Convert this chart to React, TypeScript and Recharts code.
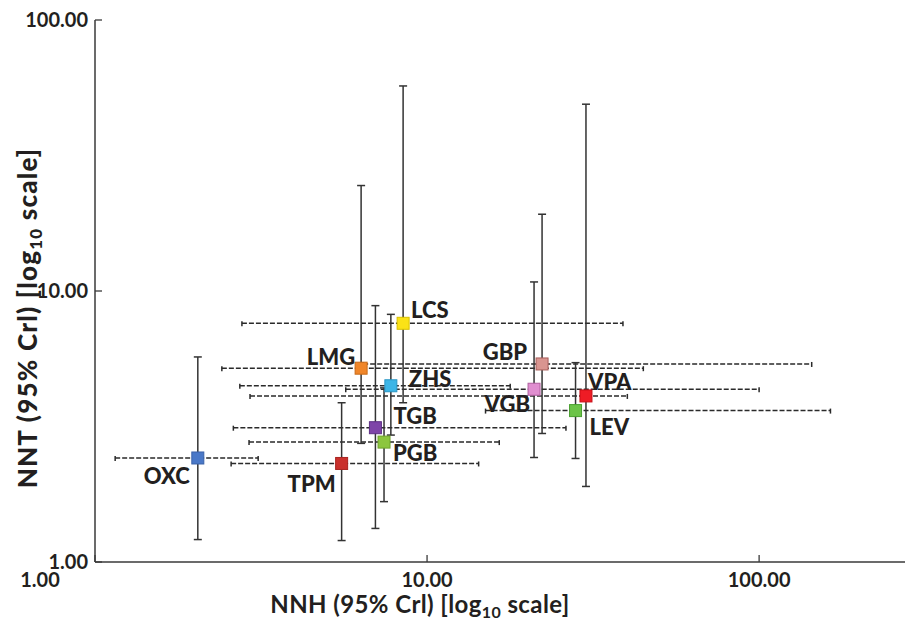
import React from "react";
import { ScatterChart, Scatter, XAxis, YAxis, ErrorBar, Label } from "recharts";

// Values (log10 axes)
const drugs = ["OXC", "TPM", "TGB", "PGB", "ZHS", "LCS", "LMG", "GBP", "VGB", "VPA", "LEV"];
const nnh = [2.04, 5.53, 6.99, 7.42, 7.78, 8.47, 6.33, 22.2, 21.0, 30.1, 28.0];
const nnhLow = [1.15, 2.57, 2.61, 2.91, 2.73, 2.77, 2.41, 6.42, 5.69, 2.93, 15.0];
const nnhHigh = [3.1, 14.3, 26.2, 16.5, 17.8, 38.9, 44.8, 144, 100, 40.1, 164];
const nnt = [2.42, 2.31, 3.13, 2.77, 4.47, 7.6, 5.19, 5.38, 4.34, 4.1, 3.62];
const nntLow = [1.21, 1.2, 1.33, 1.67, 2.94, 3.87, 2.74, 2.98, 2.43, 1.9, 2.41];
const nntHigh = [5.71, 3.87, 8.83, 4.39, 8.2, 57.1, 24.5, 19.2, 10.8, 48.9, 5.44];
const axisTicks = [1, 10, 100];

// marker fill / edge per drug
const COLORS: Record<string, [string, string]> = {
  OXC: ["#4a78c8", "#3a62a8"],
  TPM: ["#c9302c", "#a82420"],
  TGB: ["#7e44a8", "#5e2f85"],
  PGB: ["#8cc63e", "#6fa22c"],
  ZHS: ["#3db5e6", "#2a95c4"],
  LCS: ["#fbe216", "#d8c000"],
  LMG: ["#f0862a", "#c96a18"],
  GBP: ["#d99590", "#a85e5a"],
  VGB: ["#e08ed0", "#b05fa0"],
  VPA: ["#ee1c25", "#c81018"],
  LEV: ["#6cc448", "#4aa030"],
};

// where each drug code sits relative to its marker
const LABEL_PLACE: Record<string, [number, number, "start" | "end"]> = {
  OXC: [-8, 26, "end"],
  TPM: [-6, 29, "end"],
  TGB: [18, -4, "start"],
  PGB: [9, 19, "start"],
  ZHS: [18, 1, "start"],
  LCS: [8, -5, "start"],
  LMG: [-6, -3, "end"],
  GBP: [-15, -4, "end"],
  VGB: [-4, 23, "end"],
  VPA: [2, -6, "start"],
  LEV: [14, 24, "start"],
};

const FONT = "Lato, 'Open Sans', sans-serif";
const INK = "#231f20";
const AXIS = "#3a3a3a";

const rows = drugs.map((name, i) => ({
  name,
  nnh: nnh[i],
  nnt: nnt[i],
  errX: [nnh[i] - nnhLow[i], nnhHigh[i] - nnh[i]],
  errY: [nnt[i] - nntLow[i], nntHigh[i] - nnt[i]],
}));

const fmt = (v: number) => v.toFixed(2);

function Marker(props: any) {
  const { cx, cy, payload } = props;
  const [fill, edge] = COLORS[payload.name];
  const [dx, dy, anchor] = LABEL_PLACE[payload.name];
  return (
    <g>
      <rect x={cx - 6} y={cy - 6} width={12} height={12} fill={fill} stroke={edge} strokeWidth={1} />
      <text
        x={cx + dx}
        y={cy + dy}
        textAnchor={anchor}
        fontFamily={FONT}
        fontWeight={900}
        fontSize={22}
        fill={INK}
      >
        {payload.name}
      </text>
    </g>
  );
}

function XTick(props: any) {
  const { x, y, payload } = props;
  const shift = payload.value === 1 ? -55 : 0;
  return (
    <g>
      <line x1={x} x2={x} y1={y} y2={y - 7} stroke={AXIS} strokeWidth={1.3} />
      <text x={x + shift} y={y + 18} dy="0.35em" textAnchor="middle" fontFamily={FONT} fontWeight={700} fontSize={20} fill={INK}>
        {fmt(payload.value)}
      </text>
    </g>
  );
}

function YTick(props: any) {
  const { x, y, payload } = props;
  return (
    <g>
      <line x1={x} x2={x + 7} y1={y} y2={y} stroke={AXIS} strokeWidth={1.3} />
      <text x={x - 7} y={y} dy="0.35em" textAnchor="end" fontFamily={FONT} fontWeight={700} fontSize={20} fill={INK}>
        {fmt(payload.value)}
      </text>
    </g>
  );
}

function XTitle() {
  return (
    <text x={420} y={613} textAnchor="middle" fontFamily={FONT} fontWeight={700} fontSize={24} letterSpacing={0.4} fill={INK}>
      NNH (95% Crl) [log
      <tspan fontSize={16} dy={5}>10</tspan>
      <tspan dy={-5}> scale]</tspan>
    </text>
  );
}

function YTitle() {
  return (
    <text
      x={0}
      y={0}
      transform="translate(37, 318) rotate(-90)"
      textAnchor="middle"
      fontFamily={FONT}
      fontWeight={900}
      fontSize={26}
      letterSpacing={1.2}
      fill={INK}
    >
      NNT (95% Crl) [log
      <tspan fontSize={17} dy={5}>10</tspan>
      <tspan dy={-5}> scale]</tspan>
    </text>
  );
}

export default function App() {
  return (
    <div style={{ position: "absolute", left: 0, top: 0, background: "#fff" }}>
      <ScatterChart width={905} height={621} margin={{ top: 20, right: 0, bottom: 0, left: 0 }}>
        <XAxis
          type="number"
          dataKey="nnh"
          scale="log"
          domain={[1, 275]}
          ticks={axisTicks}
          allowDataOverflow
          height={59}
          tickSize={0}
          tickMargin={0}
          tickLine={false}
          axisLine={{ stroke: AXIS, strokeWidth: 1.5 }}
          tick={<XTick />}
        >
          <Label content={<XTitle />} />
        </XAxis>
        <YAxis
          type="number"
          dataKey="nnt"
          scale="log"
          domain={[1, 100]}
          ticks={axisTicks}
          allowDataOverflow
          width={95}
          tickSize={0}
          tickMargin={0}
          tickLine={false}
          axisLine={{ stroke: AXIS, strokeWidth: 1.5 }}
          tick={<YTick />}
        >
          <Label content={<YTitle />} />
        </YAxis>
        <Scatter data={rows} shape={<Marker />} isAnimationActive={false}>
          <ErrorBar
            dataKey="errX"
            direction="x"
            width={3}
            stroke="#2a2a2a"
            strokeWidth={1.5}
            strokeDasharray="5 2"
            isAnimationActive={false}
          />
          <ErrorBar
            dataKey="errY"
            direction="y"
            width={4}
            stroke="#333"
            strokeWidth={1.5}
            isAnimationActive={false}
          />
        </Scatter>
      </ScatterChart>
    </div>
  );
}
